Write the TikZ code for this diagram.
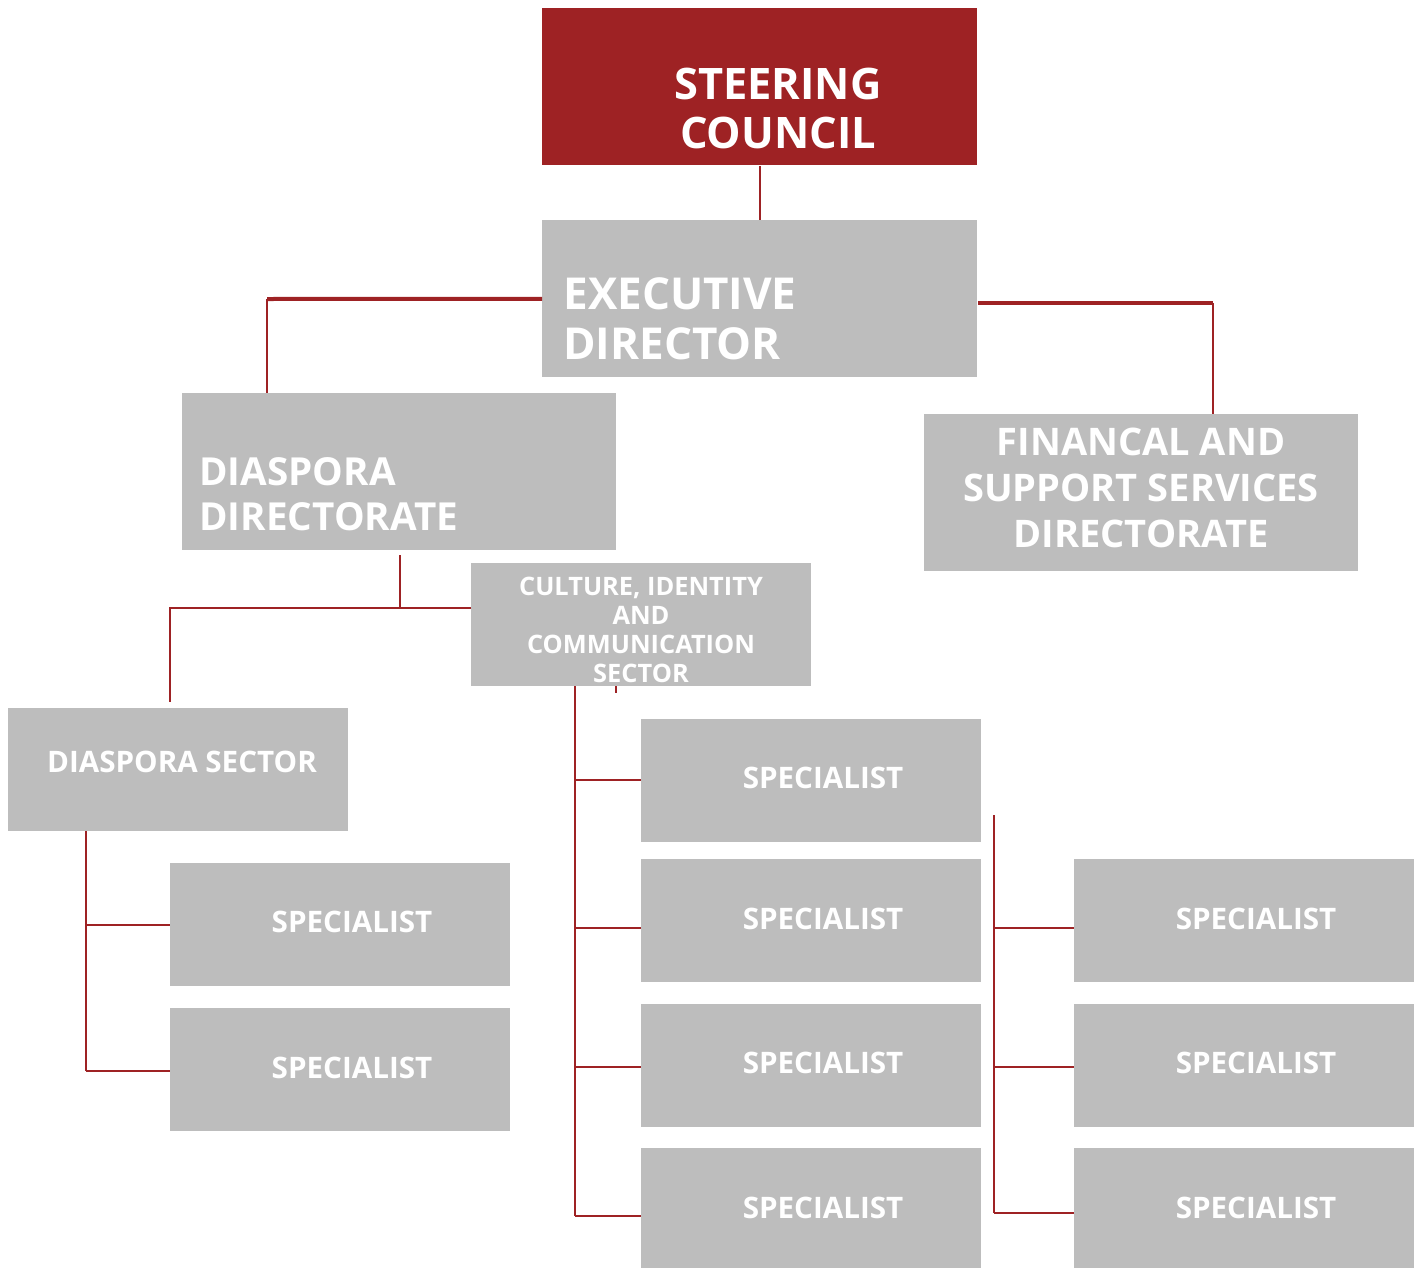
\documentclass[tikz,border=0pt]{standalone}
\usepackage{fontspec}
\setmainfont{Open Sans}
\usetikzlibrary{calc}
\definecolor{councilred}{RGB}{158, 34, 36}
\definecolor{boxgrey}{RGB}{189, 189, 189}
\tikzset{
  bigbox/.style = {fill=boxgrey, anchor=north west, inner sep=0pt, minimum width=217.5pt, minimum height=78.5pt},
  smallbox/.style = {fill=boxgrey, anchor=north west, inner sep=0pt, minimum width=170pt, minimum height=61.5pt},
  boxtext/.style = {text=white, inner sep=0pt},
  spectext/.style = {boxtext, font={\bfseries\fontsize{14.8pt}{17pt}\selectfont}},
  thinlink/.style = {draw=councilred, line width=1pt},
  thicklink/.style = {draw=councilred, line width=2pt}
}
\begin{document}
\begin{tikzpicture}[x=0.5pt, y=-0.5pt]
\useasboundingbox (0,0) rectangle (1418,1268);
% boxes
\node[bigbox, fill=councilred] (steer) at (542,8) {};
\node[bigbox] (exec) at (542,220) {};
\node[bigbox, minimum width=217pt] (ddir) at (182,393) {};
\node[bigbox, minimum width=217pt] (fin) at (924,414) {};
\node[smallbox] (cult) at (471,563) {};
\node[smallbox] (dsec) at (8,708) {};
\node[smallbox] (s1) at (641,719) {};
\node[smallbox] (s2) at (641,859) {};
\node[smallbox] (s3) at (641,1004) {};
\node[smallbox] (s4) at (641,1148) {};
\node[smallbox] (r1) at (1074,859) {};
\node[smallbox] (r2) at (1074,1004) {};
\node[smallbox] (r3) at (1074,1148) {};
\node[smallbox] (l1) at (170,863) {};
\node[smallbox] (l2) at (170,1008) {};
% texts
\node[boxtext, align=center, font={\bfseries\fontsize{21.7pt}{24.5pt}\selectfont}] (steerT) at (778,108) {STEERING\\COUNCIL};
\node[boxtext, align=left, anchor=west, font={\bfseries\fontsize{22pt}{25pt}\selectfont}] (execT) at (563,319) {EXECUTIVE\\DIRECTOR};
\node[boxtext, align=left, anchor=west, font={\bfseries\fontsize{19.3pt}{22.5pt}\selectfont}] (ddirT) at (199,494) {DIASPORA\\DIRECTORATE};
\node[boxtext, align=center, font={\bfseries\fontsize{19pt}{23pt}\selectfont}] (finT) at (1141,488) {FINANCAL AND\\SUPPORT SERVICES\\DIRECTORATE};
\node[boxtext, align=center, font={\bfseries\fontsize{12.7pt}{14.5pt}\selectfont}] (cultT) at (641,630) {CULTURE, IDENTITY\\AND\\COMMUNICATION\\SECTOR};
\node[spectext] (dsecT) at (182,762) {DIASPORA SECTOR};
\foreach \n/\xx/\yy in {s1/823/778, s2/823/919, s3/823/1063, s4/823/1208,
                        r1/1256/919, r2/1256/1063, r3/1256/1208,
                        l1/352/922, l2/352/1068}
  \node[spectext] (\n T) at (\xx,\yy) {SPECIALIST};
% links
\coordinate (execL) at (267,299);
\coordinate (execR) at (1213,303);
\coordinate (ddirB) at (400,555);
\coordinate (split) at (400,608);
\coordinate (dsecL) at (170,608);
\coordinate (cultB) at (575,686);
\coordinate (tick) at (616,686);
\coordinate (rTop) at (994,815);
\coordinate (dsecB) at (86,831);
\draw[thinlink] (steer.south) -- (exec.north);
\draw[thicklink] (exec.west) -- (execL);
\draw[thinlink] (execL) -- (execL |- ddir.north);
\draw[thicklink] (exec.east |- execR) -- (execR);
\draw[thinlink] (execR) -- (execR |- fin.north);
\draw[thinlink] (ddirB) -- (split);
\draw[thinlink] (cult.west |- split) -- (dsecL) -- ($(dsecL |- dsec.north)+(0,-6)$);
\draw[thinlink] (tick) -- ++(0,7);
\draw[thinlink] (cultB) -- (575,1216);
\foreach \n/\yy in {s1/780, s2/928, s3/1067, s4/1216}
  \draw[thinlink] (575,\yy) -- (\n.west |- 0,\yy);
\draw[thinlink] (rTop) -- (994,1213);
\foreach \n/\yy in {r1/928, r2/1067, r3/1213}
  \draw[thinlink] (994,\yy) -- (\n.west |- 0,\yy);
\draw[thinlink] (dsecB) -- (86,1071);
\foreach \n/\yy in {l1/925, l2/1071}
  \draw[thinlink] (86,\yy) -- (\n.west |- 0,\yy);
\end{tikzpicture}
\end{document}
